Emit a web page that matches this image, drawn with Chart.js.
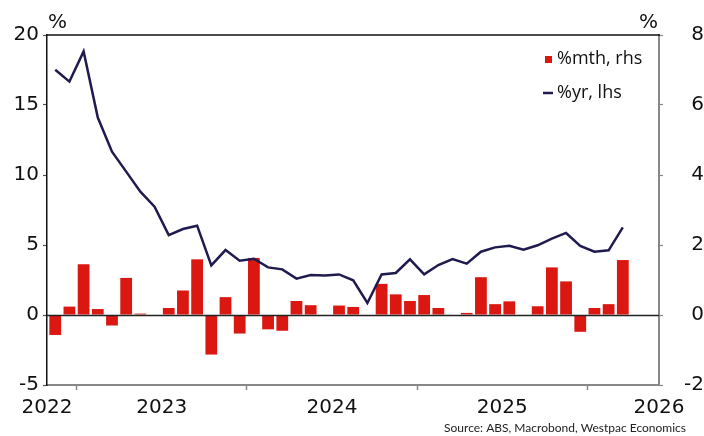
<!DOCTYPE html>
<html><head><meta charset="utf-8">
<script src="https://cdn.jsdelivr.net/npm/chart.js@4.4.1/dist/chart.umd.min.js"></script>
<style>html,body{margin:0;padding:0;background:#fff;}#wrap{width:704px;height:436px;position:relative;}</style>
</head><body><div id="wrap"><canvas id="c" width="704" height="436"></canvas></div>
<script>
// ---- data ----
const months = [
  '2022-05','2022-06','2022-07','2022-08','2022-09','2022-10','2022-11','2022-12',
  '2023-01','2023-02','2023-03','2023-04','2023-05','2023-06','2023-07','2023-08','2023-09','2023-10','2023-11','2023-12',
  '2024-01','2024-02','2024-03','2024-04','2024-05','2024-06','2024-07','2024-08','2024-09','2024-10','2024-11','2024-12',
  '2025-01','2025-02','2025-03','2025-04','2025-05','2025-06','2025-07','2025-08','2025-09'
];
// %mth, rhs (bars)
const mthValues = [
  -0.57, 0.24, 1.45, 0.17, -0.30, 1.06, 0.04, 0.00,
  0.20, 0.70, 1.59, -1.13, 0.51, -0.53, 1.63, -0.41, -0.45, 0.40, 0.28, 0.00,
  0.27, 0.23, -0.03, 0.89, 0.59, 0.40, 0.57, 0.20, 0.00, 0.06, 1.08, 0.31,
  0.39, 0.00, 0.25, 1.36, 0.96, -0.48, 0.20, 0.31, 1.57
];
// %yr, lhs (line)
const yrValues = [
  17.52, 16.67, 18.83, 14.10, 11.67, 10.24, 8.81, 7.74,
  5.71, 6.14, 6.38, 3.55, 4.64, 3.88, 4.02, 3.40, 3.26, 2.60, 2.86, 2.83,
  2.90, 2.48, 0.86, 2.90, 3.00, 3.98, 2.90, 3.57, 4.00, 3.67, 4.52, 4.83,
  4.95, 4.67, 4.98, 5.45, 5.86, 4.93, 4.52, 4.62, 6.26
];
const yearLabels = ['2022','2023','2024','2025','2026'];
const leftTicks = [-5, 0, 5, 10, 15, 20];
const rightTicks = [-2, 0, 2, 4, 6, 8];
const seriesNames = ['%mth, rhs', '%yr, lhs'];
const sourceText = 'Source: ABS, Macrobond, Westpac Economics';

// ---- build ----
const X_MIN = -0.58, X_MAX = 42.55;
const idxOf = m => months.indexOf(m);
const clamp = v => Math.max(X_MIN, Math.min(X_MAX, v));
const labelPos = yearLabels.map(y => {
  let i = idxOf(y + '-01');
  if (i < 0) { const [yy, mm] = months[0].split('-').map(Number); i = (Number(y) - yy) * 12 + (1 - mm); }
  return clamp(i - 0.5);
});
const markPos = [];
months.forEach((m, i) => { if (m.endsWith('-07')) markPos.push(i - 0.5); });
const labelMap = new Map(labelPos.map((p, k) => [p, yearLabels[k]]));
const markSet = new Set(markPos);
const xTickVals = [...labelPos, ...markPos].sort((a, b) => a - b);

const RED = '#DA1710', NAVY = '#1F1B4F';

const decor = {
  id: 'decor',
  afterDatasetsDraw(chart) {
    const {ctx, chartArea: ca, scales} = chart;
    ctx.save();
    ctx.strokeStyle = '#111'; ctx.lineWidth = 1.5;
    ctx.beginPath(); ctx.moveTo(ca.left - 0.75, ca.top); ctx.lineTo(ca.right + 1, ca.top); ctx.stroke();
    const y0 = Math.round(scales.y2.getPixelForValue(0)) + 0.5;
    ctx.strokeStyle = '#222'; ctx.lineWidth = 1.5;
    ctx.beginPath(); ctx.moveTo(ca.left, y0); ctx.lineTo(ca.right, y0); ctx.stroke();
    ctx.restore();
  },
  afterDraw(chart) {
    const {ctx, chartArea: ca} = chart;
    ctx.save();
    ctx.fillStyle = '#111';
    ctx.font = '20px "DejaVu Sans"';
    ctx.textBaseline = 'alphabetic';
    ctx.textAlign = 'left'; ctx.fillText('%', ca.left + 1, 28);
    ctx.textAlign = 'right'; ctx.fillText('%', ca.right - 1, 28);
    ctx.font = '18px "Open Sans"';
    ctx.textAlign = 'left'; ctx.textBaseline = 'middle';
    ctx.fillStyle = RED; ctx.fillRect(545, 56, 7, 7);
    ctx.fillStyle = '#111'; ctx.fillText(seriesNames[0], 557, 59);
    ctx.strokeStyle = NAVY; ctx.lineWidth = 2.5;
    ctx.beginPath(); ctx.moveTo(543, 93); ctx.lineTo(553, 93); ctx.stroke();
    ctx.fillStyle = '#111'; ctx.fillText(seriesNames[1], 557, 93);
    ctx.font = '12px Lato';
    ctx.textAlign = 'right'; ctx.fillStyle = '#222';
    ctx.fillText(sourceText, 686, 428);
    ctx.restore();
  }
};

Chart.defaults.font.family = '"DejaVu Sans"';
Chart.defaults.color = '#111';

new Chart(document.getElementById('c'), {
  type: 'bar',
  data: {
    datasets: [
      { type: 'line', label: seriesNames[1], data: yrValues.map((v, i) => ({x: i, y: v})),
        yAxisID: 'y', borderColor: NAVY, borderWidth: 2.5, pointRadius: 0, tension: 0, order: 0 },
      { type: 'bar', label: seriesNames[0], data: mthValues.map((v, i) => ({x: i, y: v})),
        yAxisID: 'y2', backgroundColor: RED, borderWidth: 0, barPercentage: 1, categoryPercentage: 0.83, order: 1 }
    ]
  },
  options: {
    responsive: false, animation: false, devicePixelRatio: 1,
    layout: { padding: { top: 35, left: 0, right: 0, bottom: 0 } },
    plugins: { legend: { display: false }, tooltip: { enabled: false } },
    scales: {
      x: {
        type: 'linear', min: X_MIN, max: X_MAX, position: 'bottom', offset: false,
        afterBuildTicks: s => { s.ticks = xTickVals.map(v => ({value: v})); },
        afterFit: s => { s.height = 51; },
        ticks: { autoSkip: false, maxRotation: 0, padding: 6, font: { size: 20 },
                 callback: v => labelMap.get(v) || '' },
        grid: { offset: false, drawOnChartArea: false, drawTicks: true, tickLength: 5,
                tickColor: c => (c.tick && markSet.has(c.tick.value)) ? '#888' : 'rgba(0,0,0,0)', tickWidth: 1.5 },
        border: { color: '#888', width: 2 }
      },
      y: {
        position: 'left', min: leftTicks[0], max: leftTicks[leftTicks.length - 1],
        afterBuildTicks: s => { s.ticks = leftTicks.map(v => ({value: v})); },
        afterFit: s => { s.width = 47; },
        ticks: { padding: 4, font: { size: 20 } },
        grid: { drawOnChartArea: false, tickLength: 4, tickColor: '#555', tickWidth: 1.2 },
        border: { color: '#111', width: 1.5 }
      },
      y2: {
        position: 'right', min: rightTicks[0], max: rightTicks[rightTicks.length - 1],
        afterBuildTicks: s => { s.ticks = rightTicks.map(v => ({value: v})); },
        afterFit: s => { s.width = 45; },
        ticks: { padding: 4, crossAlign: 'far', font: { size: 20 } },
        grid: { drawOnChartArea: false, tickLength: 4, tickColor: '#888', tickWidth: 1.2 },
        border: { color: '#888', width: 2 }
      }
    }
  },
  plugins: [decor]
});
</script></body></html>
